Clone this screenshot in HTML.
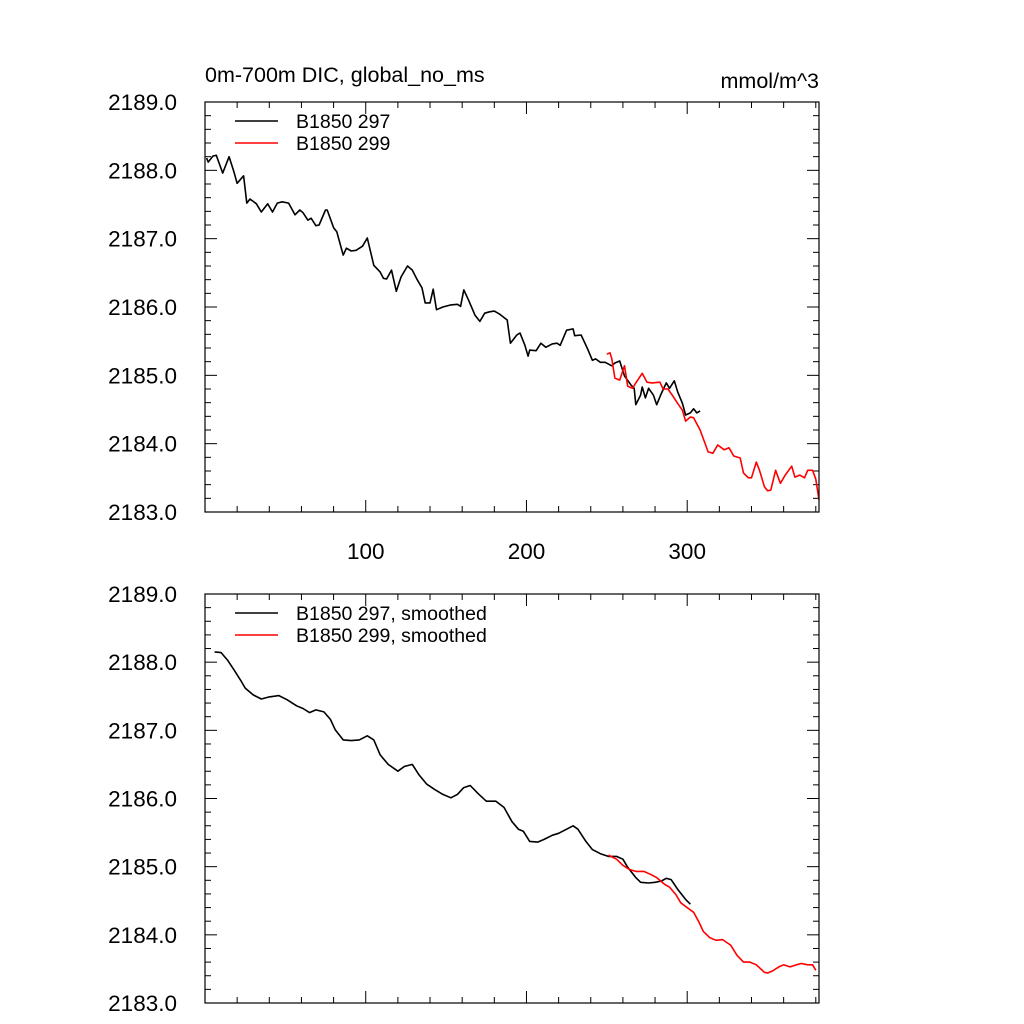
<!DOCTYPE html>
<html><head><meta charset="utf-8"><style>
body{margin:0;background:#fff}
svg{display:block;font-family:"Liberation Sans",sans-serif}
</style></head><body>
<svg id="c" width="1024" height="1024" viewBox="0 0 1024 1024"></svg>
<script>
const xTicks=[100,200,300];
const yTicks=[2183,2184,2185,2186,2187,2188,2189];
const yTickLabels=["2183.0","2184.0","2185.0","2186.0","2187.0","2188.0","2189.0"];
const legendTop=["B1850 297","B1850 299"];
const legendBot=["B1850 297, smoothed","B1850 299, smoothed"];
const blackX=[1,2,5,7,11,15,18,20,24,26,28,32,35,39,42,45,48,52,56,59,61,64,66,69,71,75,76,80,82,86,88,91,94,98,101,105,109,111,113,116,119,122,126,129,132,135,137,140,142,144,148,153,157,159,161,164,168,171,174,177,180,183,188,190,194,196,199,201,202,206,209,212,216,219,221,225,229,230,234,238,241,243,246,249,253,255,258,261,265,267,268,271,272,274,276,279,281,284,287,289,292,294,297,299,302,304,306,308];
const blackY=[2188.18,2188.12,2188.21,2188.22,2187.96,2188.20,2187.98,2187.81,2187.92,2187.52,2187.58,2187.51,2187.39,2187.51,2187.39,2187.52,2187.54,2187.52,2187.35,2187.42,2187.38,2187.27,2187.30,2187.19,2187.20,2187.42,2187.42,2187.16,2187.10,2186.76,2186.86,2186.82,2186.83,2186.89,2187.01,2186.61,2186.51,2186.42,2186.41,2186.54,2186.23,2186.44,2186.60,2186.54,2186.40,2186.28,2186.06,2186.06,2186.26,2185.96,2186.00,2186.03,2186.04,2186.01,2186.25,2186.10,2185.88,2185.79,2185.91,2185.93,2185.94,2185.90,2185.81,2185.47,2185.59,2185.62,2185.44,2185.28,2185.37,2185.36,2185.47,2185.41,2185.46,2185.47,2185.44,2185.66,2185.68,2185.58,2185.59,2185.39,2185.22,2185.24,2185.19,2185.19,2185.14,2185.18,2185.21,2184.99,2184.86,2184.81,2184.57,2184.71,2184.83,2184.67,2184.81,2184.71,2184.57,2184.74,2184.89,2184.81,2184.92,2184.76,2184.59,2184.42,2184.45,2184.51,2184.45,2184.48];
const redX=[250,252,253,255,258,261,263,266,268,272,275,278,283,285,288,291,294,297,299,302,304,308,311,313,316,319,323,326,329,333,335,338,340,343,345,348,350,352,355,358,361,365,367,370,373,375,378,380,382];
const redY=[2185.31,2185.33,2185.25,2184.96,2184.93,2185.14,2184.84,2184.81,2184.89,2185.03,2184.90,2184.89,2184.90,2184.80,2184.80,2184.70,2184.59,2184.49,2184.33,2184.39,2184.38,2184.20,2184.01,2183.88,2183.86,2183.98,2183.91,2183.94,2183.82,2183.79,2183.57,2183.50,2183.50,2183.73,2183.61,2183.37,2183.31,2183.32,2183.61,2183.42,2183.54,2183.67,2183.51,2183.54,2183.50,2183.61,2183.61,2183.48,2183.18];
const sBlackX=[6,10,14,18,22,25,30,35,40,46,51,57,61,65,69,74,78,81,86,91,96,101,105,109,114,120,124,129,133,138,143,148,153,157,161,165,170,175,181,186,191,195,198,202,207,211,216,220,225,229,232,237,241,246,251,256,260,263,268,271,276,280,284,287,290,294,299,302];
const sBlackY=[2188.15,2188.14,2188.03,2187.89,2187.74,2187.62,2187.52,2187.46,2187.49,2187.51,2187.45,2187.36,2187.32,2187.26,2187.30,2187.27,2187.16,2187.01,2186.86,2186.85,2186.86,2186.92,2186.86,2186.64,2186.50,2186.40,2186.47,2186.50,2186.35,2186.21,2186.13,2186.06,2186.01,2186.06,2186.16,2186.19,2186.07,2185.96,2185.96,2185.87,2185.66,2185.55,2185.52,2185.37,2185.36,2185.40,2185.46,2185.49,2185.55,2185.60,2185.55,2185.37,2185.25,2185.19,2185.15,2185.15,2185.11,2184.99,2184.84,2184.77,2184.76,2184.77,2184.79,2184.83,2184.81,2184.67,2184.52,2184.45];
const sRedX=[251,256,260,264,268,273,277,281,286,289,293,296,300,304,307,310,314,318,322,327,331,335,339,343,348,350,353,357,360,364,368,371,375,378,380];
const sRedY=[2185.17,2185.11,2185.02,2184.96,2184.93,2184.93,2184.89,2184.84,2184.74,2184.70,2184.59,2184.47,2184.40,2184.33,2184.20,2184.05,2183.96,2183.92,2183.93,2183.85,2183.70,2183.60,2183.60,2183.56,2183.45,2183.44,2183.47,2183.53,2183.56,2183.53,2183.56,2183.58,2183.56,2183.56,2183.48];

const NS="http://www.w3.org/2000/svg";
const svg=document.getElementById('c');
const L=205,R=819,X0=0,X1=382;
function sx(v){return L+(v-X0)/(X1-X0)*(R-L);}
function mk(tag,attrs,parent){const e=document.createElementNS(NS,tag);for(const k in attrs)e.setAttribute(k,attrs[k]);(parent||svg).appendChild(e);return e;}

function panel(top,bot,name,showX,series,legend){
  const g=mk('g',{});
  
  
  const sy=v=>bot-(v-2183)/6*(bot-top);
  for(let v=2183;v<=2189.001;v+=0.2){
    const major=Math.abs(v-Math.round(v))<0.01;
    const len=major?12:6;const y=sy(v);
    mk('line',{x1:L,x2:L+len,y1:y,y2:y,stroke:'#000','stroke-width':1},g);
    mk('line',{x1:R,x2:R-len,y1:y,y2:y,stroke:'#000','stroke-width':1},g);
  }
  for(let v=20;v<=380;v+=20){
    const major=v%100===0;const len=major?12:6;const x=sx(v);
    mk('line',{x1:x,x2:x,y1:bot,y2:bot-len,stroke:'#000'},g);
    mk('line',{x1:x,x2:x,y1:top,y2:top+len,stroke:'#000'},g);
  }
  yTicks.forEach((v,i)=>{
    const t=mk('text',{x:177,y:sy(v)+8,'text-anchor':'end','font-size':22.5},g);
    t.textContent=yTickLabels[i];
    
    
  });
  if(showX){xTicks.forEach(v=>{
    const t=mk('text',{x:sx(v),y:bot+47,'text-anchor':'middle','font-size':22.5},g);
    t.textContent=String(v);
    
    
  });}
  series.forEach(s=>{
    const d=s.x.map((v,i)=>(i?'L':'M')+sx(v).toFixed(1)+','+sy(s.y[i]).toFixed(1)).join('');
    const p=mk('path',{d:d,fill:'none',stroke:s.c,'stroke-width':1.6,'stroke-linejoin':'round'},g);
    
    
  });
  mk('rect',{x:L,y:top,width:R-L,height:bot-top,fill:'none',stroke:'#000','stroke-width':1.2},g);
  legend.forEach((txt,i)=>{
    const y=top+19+i*22;
    const ln=mk('line',{x1:235,x2:278,y1:y,y2:y,stroke:i?'#f00':'#000','stroke-width':1.6},g);
    
    
    const t=mk('text',{x:296,y:y+7,'font-size':19.5},g);
    t.textContent=txt;
    
    
  });
}
panel(102,512,'top-panel',true,[{x:blackX,y:blackY,c:'#000',n:'series-297'},{x:redX,y:redY,c:'#f00',n:'series-299'}],legendTop);
panel(594,1003,'bottom-panel',false,[{x:sBlackX,y:sBlackY,c:'#000',n:'series-297-smoothed'},{x:sRedX,y:sRedY,c:'#f00',n:'series-299-smoothed'}],legendBot);
const t1=mk('text',{x:205,y:82,'font-size':21.5});
t1.textContent='0m-700m DIC, global_no_ms';


const t2=mk('text',{x:819,y:88,'font-size':21.5,'text-anchor':'end'});
t2.textContent='mmol/m^3';


</script>
</body></html>
